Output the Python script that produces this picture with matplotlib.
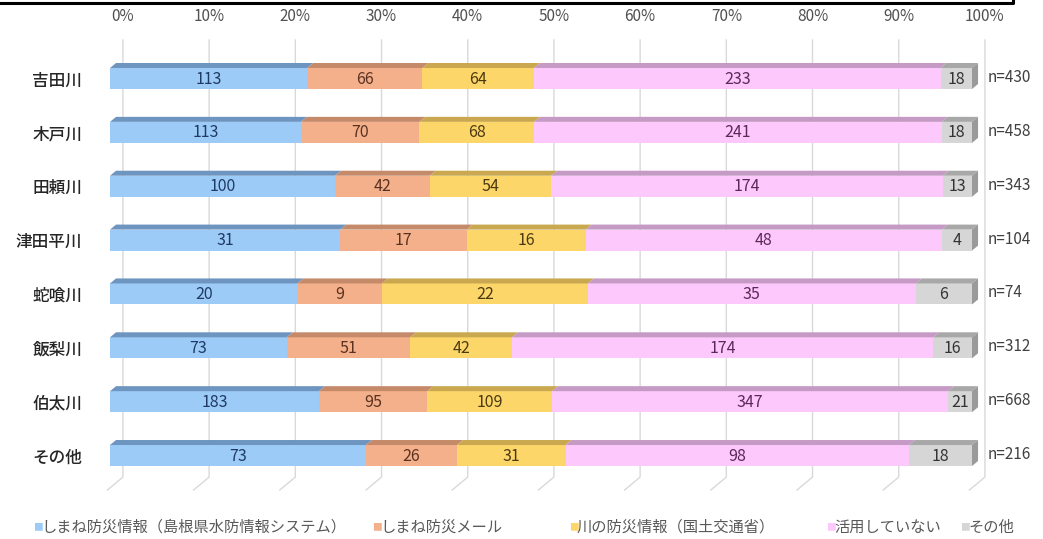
import numpy as np
import matplotlib
matplotlib.use("Agg")
import matplotlib.pyplot as plt
from matplotlib.patches import Rectangle, Polygon
from matplotlib.lines import Line2D

plt.rcParams["font.family"] = ["Noto Sans CJK JP", "DejaVu Sans"]

rivers = ["吉田川", "木戸川", "田頼川", "津田平川", "蛇喰川", "飯梨川", "伯太川", "その他"]
n_resp = [430, 458, 343, 104, 74, 312, 668, 216]
series = ["しまね防災情報（島根県水防情報システム）", "しまね防災メール",
          "川の防災情報（国土交通省）", "活用していない", "その他"]
shimane_info = [113, 113, 100, 31, 20, 73, 183, 73]
shimane_mail = [66, 70, 42, 17, 9, 51, 95, 26]
kawa_info = [64, 68, 54, 16, 22, 42, 109, 31]
not_used = [233, 241, 174, 48, 35, 174, 347, 98]
other = [18, 18, 13, 4, 6, 16, 21, 18]
ticks = [0, 10, 20, 30, 40, 50, 60, 70, 80, 90, 100]

face = ["#9DCBF7", "#F3B08A", "#FDD66A", "#FDC8FB", "#D6D6D6"]
top = ["#6E95C0", "#C48A6A", "#C9A850", "#C59AC4", "#A8A8A8"]
txt = ["#1F3A64", "#5A3222", "#4A3A10", "#5A2A58", "#333333"]
side = "#9A9A9A"

counts = np.array([shimane_info, shimane_mail, kawa_info, not_used, other], float)
pct = counts / counts.sum(axis=0) * 100

fig = plt.figure(figsize=(10.43, 5.39), dpi=100)
W, H = 1043, 539
ax = fig.add_axes([110 / W, 1 - 490 / H, 862 / W, 450 / H])
ax.set_xlim(0, 100)
ax.set_ylim(7.64, -0.715)
for s in ax.spines.values():
    s.set_visible(False)
ax.set_xticks([])
ax.set_yticks(range(len(rivers)))
ax.set_yticklabels(rivers, fontsize=12, fontweight="medium", color="#262626")
ax.tick_params(axis="y", length=0, pad=20)

# back-wall gridlines with a short floor segment
gx, fx, wall_bot, floor = 1.5, 1.8, 7.40, 7.64
for v in ticks:
    ax.plot([v + gx, v + gx, v + gx - fx], [-0.715, wall_bot, floor],
            color="#D9D9D9", lw=1, clip_on=False, zorder=0)
    ax.text(v + gx, -0.715 - 0.43, f"{v}%", ha="center", va="center",
            fontsize=11, color="#505050", clip_on=False)

h, dx, dy = 0.39, 0.7, 0.093
for i in range(len(rivers)):
    left = 0.0
    yt = i - h / 2
    for k in range(len(series)):
        w = pct[k, i]
        ax.add_patch(Rectangle((left, yt), w, h, facecolor=face[k],
                               edgecolor="none", zorder=2, clip_on=False))
        ax.add_patch(Polygon([(left, yt), (left + w, yt), (left + w + dx, yt - dy),
                              (left + dx, yt - dy)], closed=True,
                             facecolor=top[k], edgecolor="none", zorder=2,
                             clip_on=False))
        ax.text(left + w / 2, i + 0.01, f"{int(counts[k, i])}", ha="center",
                va="center", fontsize=11.5, color=txt[k], zorder=3)
        left += w
    ax.add_patch(Polygon([(left, yt), (left, yt + h), (left + dx, yt + h - dy),
                          (left + dx, yt - dy)], closed=True,
                         facecolor=side, edgecolor="none", zorder=2,
                         clip_on=False))
    ax.text(101.8, i - 0.02, f"n={n_resp[i]}", ha="left", va="center",
            fontsize=11, color="#404040", clip_on=False)

# legend row
leg_x = [33, 372, 569, 826, 960]
for k, name in enumerate(series):
    fig.text(leg_x[k] / W, 1 - 527 / H, "■", fontsize=7, color=face[k],
             ha="left", va="center")
    fig.text((leg_x[k] + 8) / W, 1 - 527 / H, name, fontsize=11,
             color="#595959", ha="left", va="center")

# frame edge above the chart
fig.add_artist(Line2D([0, 1013 / W, 1013 / W], [1 - 3 / H, 1 - 3 / H, 1.0],
                      color="black", lw=2.2))

fig.savefig("out.png", dpi=100)
